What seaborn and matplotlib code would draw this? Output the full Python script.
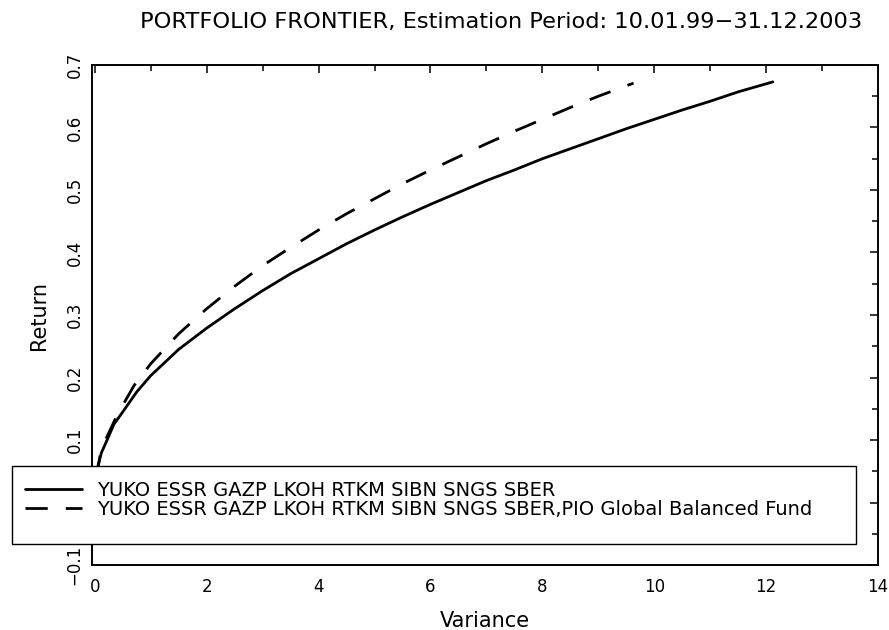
import numpy as np
import pandas as pd
import matplotlib
matplotlib.use("Agg")
import matplotlib.pyplot as plt
from matplotlib.ticker import MultipleLocator, FuncFormatter
from matplotlib.patches import Rectangle
import seaborn as sns

# frontier 1: the eight russian stocks
variance_stocks = [0.03, 0.06, 0.12, 0.22, 0.34, 0.5, 0.75, 1.0, 1.5, 2.0, 2.5, 3.0, 3.5, 4.0,
                   4.5, 5.0, 5.5, 6.0, 6.5, 7.0, 7.5, 8.0, 8.5, 9.0, 9.5, 10.0, 10.5, 11.0,
                   11.5, 12.12]
return_stocks = [0.04, 0.06, 0.08, 0.10, 0.125, 0.145, 0.177, 0.203, 0.245, 0.279, 0.310, 0.339,
                 0.366, 0.390, 0.414, 0.436, 0.457, 0.477, 0.496, 0.515, 0.532, 0.550, 0.566,
                 0.582, 0.598, 0.613, 0.628, 0.642, 0.657, 0.673]

# frontier 2: same stocks plus the PIO fund
variance_fund = [0.03, 0.1, 0.2, 0.4, 0.7, 1.0, 1.5, 2.0, 2.5, 3.0, 3.5, 4.0, 4.5, 5.0, 5.5,
                 6.0, 6.5, 7.0, 7.5, 8.0, 8.5, 9.0, 9.63]
return_fund = [0.04, 0.078, 0.102, 0.140, 0.187, 0.222, 0.270, 0.310, 0.346, 0.379, 0.408,
               0.436, 0.462, 0.486, 0.510, 0.532, 0.553, 0.574, 0.594, 0.613, 0.632, 0.650, 0.671]

label_stocks = "YUKO ESSR GAZP LKOH RTKM SIBN SNGS SBER"
label_fund = "YUKO ESSR GAZP LKOH RTKM SIBN SNGS SBER,PIO Global Balanced Fund"

sns.set_style("white")
plt.rcParams["font.family"] = ["DejaVu Sans"]
plt.rcParams["text.color"] = "black"
plt.rcParams["axes.labelcolor"] = "black"

fig = plt.figure(figsize=(8.89, 6.30), dpi=100)
ax = fig.add_axes([92 / 889, 65 / 630, 786 / 889, 500 / 630])

sns.lineplot(x=variance_stocks, y=return_stocks, color="black", lw=2.0,
             sort=False, estimator=None, label=label_stocks, ax=ax)
sns.lineplot(x=variance_fund, y=return_fund, color="black", lw=2.0,
             linestyle=(0, (8, 6.5)), sort=False, estimator=None, label=label_fund, ax=ax)

ax.set_xlim(-0.05, 14)
ax.set_ylim(-0.1, 0.7)
ax.xaxis.set_major_locator(MultipleLocator(2))
ax.xaxis.set_minor_locator(MultipleLocator(1))
ax.yaxis.set_major_locator(MultipleLocator(0.1))
ax.yaxis.set_minor_locator(MultipleLocator(0.05))
ax.yaxis.set_major_formatter(FuncFormatter(
    lambda v, p: f"{v:.1f}".replace("-", "\u2212") if abs(v) > 1e-9 else "0"))

ax.tick_params(which="both", direction="in", top=True, right=True, width=1.1, colors="black")
ax.tick_params(which="major", length=6)
ax.tick_params(which="minor", length=4)
ax.tick_params(axis="x", labelsize=12, pad=9)
ax.tick_params(axis="y", labelsize=12, pad=6, labelrotation=90)
for lab in ax.get_yticklabels():
    lab.set_verticalalignment("center")

for s in ax.spines.values():
    s.set_linewidth(1.4)
    s.set_color("black")

ax.set_xlabel("Variance", fontsize=15, labelpad=11)
ax.set_ylabel("Return", fontsize=15, labelpad=12)

fig.text(501 / 889, 1 - 22 / 630, "PORTFOLIO FRONTIER, Estimation Period: 10.01.99\u221231.12.2003",
         ha="center", va="center", fontsize=16.2)

# legend box: white frame that sits over the lines and the tick labels
box = Rectangle((12 / 889, (630 - 544) / 630), 844 / 889, 78 / 630,
                transform=fig.transFigure, facecolor="white", edgecolor="black",
                linewidth=1.0, clip_on=False, zorder=4.9)
ax.add_patch(box)

leg = ax.legend(loc="upper left", bbox_to_anchor=(25 / 889, 1 - 481 / 630),
                bbox_transform=fig.transFigure, borderaxespad=0, borderpad=0,
                fontsize=14, frameon=False, handlelength=2.95, handletextpad=0.75,
                labelspacing=0)

fig.savefig("out.png", dpi=100)
